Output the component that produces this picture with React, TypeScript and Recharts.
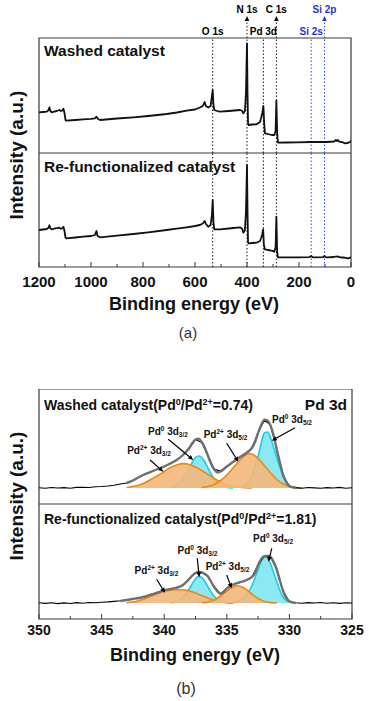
import {
  ComposedChart,
  Line,
  Area,
  XAxis,
  YAxis,
  ReferenceLine,
  ReferenceArea,
  ReferenceDot,
} from "recharts";

const FONT = '"Liberation Sans", Arial, Helvetica, sans-serif';
const INK = "#111";
const FRAME = "#3a3a3a";
const BLUE = "#1f35d6";
const ORANGE = "#ee8618";
const ORANGE_FILL = "#f4b77a";
const CYAN = "#19cde4";
const CYAN_FILL = "#86e8f2";
const ENVELOPE = "#707070";

// ---- (a) survey spectra: binding energy (eV), intensity (a.u.) ----
const surveyWashed: [number, number][] = [
  [1200, 40.7], [1185, 41], [1170, 41.3], [1163, 43], [1160, 45.7], [1156, 42], [1151, 40.7],
  [1140, 41.5], [1132, 42], [1122, 43], [1116, 42], [1110, 42.5], [1106, 44.3], [1102, 40],
  [1098, 33], [1096, 32.3], [1060, 33], [1030, 33.7], [1000, 34.2], [985, 34.7], [979, 36.3],
  [973, 34], [965, 33], [900, 34.5], [837, 35.7], [780, 37], [709, 39], [670, 40.5], [632, 42.3],
  [600, 43.5], [581, 45.5], [570, 47], [563, 51], [558, 47], [549, 45.5], [540, 47], [536, 55],
  [532, 63], [529, 48], [526, 43], [515, 42], [504, 41.3], [470, 42], [427, 43], [418, 42],
  [414, 39.7], [408, 42], [404, 60], [400, 109.7], [398, 60], [396, 30], [394, 28], [380, 28.5],
  [363, 28.7], [350, 31], [346, 34.7], [341, 40], [337, 47], [334, 30], [331, 19.7], [320, 19],
  [305, 18], [295, 18], [290, 22], [287, 52.3], [284, 20], [281, 10.3], [250, 10.5], [209, 10.7],
  [153, 11], [102, 11], [93, 11], [65, 11.5], [58, 13], [55, 12], [50, 13], [45, 11.3], [35, 11],
  [23, 9.7], [15, 10], [10, 10.3], [4, 11], [1, 12], [0, 12],
];

const surveyRefunc: [number, number][] = [
  [1200, 37], [1185, 37.5], [1170, 38], [1163, 39.5], [1160, 41.7], [1156, 38.5], [1151, 37.7],
  [1140, 38.5], [1132, 38.8], [1122, 39.3], [1116, 38.3], [1110, 38.8], [1106, 40.3], [1102, 36],
  [1098, 29.5], [1096, 28.7], [1060, 29.5], [1030, 30.3], [1000, 31], [985, 32], [979, 36],
  [975, 31], [965, 29.7], [900, 31.3], [837, 33], [780, 34.7], [709, 37], [670, 38.3], [632, 39.7],
  [600, 41], [581, 42], [570, 43.5], [563, 46], [558, 43], [549, 40.3], [540, 42], [535, 52],
  [532, 67], [529, 45], [526, 37.7], [515, 37.7], [504, 37.7], [470, 38.5], [427, 39.7], [418, 38],
  [414, 34.3], [408, 37], [404, 55], [400, 102], [398, 55], [396, 25], [394, 23.7], [380, 24],
  [363, 24.3], [350, 26], [346, 28.7], [342, 32], [338, 37.7], [335, 22], [331, 17.7], [320, 17],
  [305, 16.3], [295, 15.3], [290, 20], [287, 50.3], [284, 15], [281, 9.7], [250, 9.7], [209, 9.7],
  [160, 9.8], [153, 11], [148, 9.8], [143, 9.7], [108, 9.8], [102, 11], [97, 9.8], [93, 9.7],
  [65, 10], [58, 10.5], [55, 10.3], [50, 10.5], [42, 9.7], [30, 9.5], [20, 9.2], [10, 8.7],
  [4, 9.3], [0, 9.7],
];

const surveyTicks = [0, 100, 200, 300, 400, 500, 600, 700, 800, 900, 1000, 1100, 1200];
const coreEnergies = [532, 400, 337, 287, 153, 102];
const coreNames = ["O 1s", "N 1s", "Pd 3d", "C 1s", "Si 2s", "Si 2p"];

// ---- (b) Pd 3d high resolution, intensity above background (a.u.) ----
const washedRaw: [number, number][] = [
  [350, 0.3], [349.5, -0.3], [349, 0.5], [348.5, 0], [348, 0.4], [347.5, -0.2], [347, 0.6],
  [346.5, 0.8], [346, 0.5], [345.5, 1.2], [345, 1.5], [344.5, 2], [344, 2.8], [343.5, 4], [343, 5],
  [342.5, 7.8], [342, 10.8], [341.5, 14.3], [341, 16.2], [340.5, 19.3], [340, 21.2], [339.5, 24.8],
  [339, 27.7], [338.5, 33.3], [338, 39.6], [337.5, 48.4], [337, 45.5], [336.5, 32.4], [336, 18.6],
  [335.5, 16.9], [335, 21.1], [334.5, 26.4], [334, 30.2], [333.5, 34.8], [333, 39.6], [332.5, 55.4],
  [332, 67.6], [331.5, 62.9], [331, 37.6], [330.5, 12.4], [330, 1.8], [329.5, 0.4], [329, -0.2],
  [328.5, 0.5], [328, 0.1], [327.5, -0.3], [327, 0.4], [326.5, 0], [326, 0.6], [325.5, -0.2], [325, 0.3],
];
const washedFit: [number, number][] = [
  [343, 5], [342.5, 7.5], [342, 11], [341.5, 14], [341, 16.5], [340.5, 19], [340, 21.5], [339.5, 24.5],
  [339, 28], [338.5, 33], [338, 40], [337.75, 45], [337.5, 48.5], [337.25, 49.4], [337, 46],
  [336.75, 40], [336.5, 32], [336.25, 24], [336, 18.5], [335.75, 15.5], [335.5, 16.5], [335, 21.5],
  [334.5, 26], [334, 30.5], [333.5, 34.5], [333, 40], [332.75, 46], [332.5, 55], [332.25, 63],
  [332, 68.4], [331.75, 67.5], [331.5, 62], [331.25, 52], [331, 38], [330.75, 25], [330.5, 13],
  [330.25, 6], [330, 2], [329.5, 0],
];
const washedPd2_32: [number, number][] = [
  [343, 0.5], [342.5, 1.5], [342, 3], [341.5, 5.5], [341, 9], [340.5, 12.5], [340, 16.5], [339.5, 20.5],
  [339, 23], [338.5, 24.4], [338, 23.5], [337.5, 21], [337, 17.5], [336.5, 13.5], [336, 9.5],
  [335.5, 6], [335, 3.5], [334.5, 1.8], [334, 0.8], [333.5, 0.3], [333, 0],
];
const washedPd0_32: [number, number][] = [
  [339.5, 0.5], [339, 3], [338.5, 9], [338, 20], [337.75, 26], [337.5, 30.5], [337.25, 32], [337, 30.5],
  [336.75, 26], [336.5, 20], [336, 9], [335.5, 3], [335, 0.5], [334.5, 0],
];
const washedPd2_52: [number, number][] = [
  [337, 0.5], [336.5, 1.5], [336, 3.5], [335.5, 7.5], [335, 13], [334.5, 20], [334, 27.5], [333.5, 33],
  [333.25, 34.4], [333, 34], [332.5, 29.5], [332, 22.5], [331.5, 15], [331, 8.5], [330.5, 4],
  [330, 1.5], [329.5, 0.5], [329, 0],
];
const washedPd0_52: [number, number][] = [
  [334, 0.5], [333.5, 3], [333, 13], [332.75, 22], [332.5, 32], [332.25, 45], [332, 55], [331.75, 56],
  [331.5, 50], [331.25, 40], [331, 30], [330.75, 20], [330.5, 12], [330.25, 5.5], [330, 2],
  [329.5, 0.3], [329, 0],
];

const refuncRaw: [number, number][] = [
  [350, 0.2], [349.5, -0.4], [349, 0.3], [348.5, -0.6], [348, 0.1], [347.5, -0.5], [347, 0.4],
  [346.5, -0.2], [346, 0.5], [345.5, 0.3], [345, 0.8], [344.5, 1.1], [344, 1.6], [343.5, 2.2], [343, 3],
  [342.5, 4.2], [342, 5.3], [341.5, 6.2], [341, 8.8], [340.5, 10.2], [340, 13], [339.5, 13.8],
  [339, 15.6], [338.5, 17.7], [338, 24.3], [337.5, 29.8], [337, 30.8], [336.5, 26.2], [336, 16.3],
  [335.5, 9.1], [335, 14.8], [334.5, 18.2], [334, 20.8], [333.5, 22.3], [333, 26.3], [332.5, 37.7],
  [332, 46.9], [331.5, 45.7], [331, 33.4], [330.5, 11.8], [330, 1.5], [329.5, 0.3], [329, -0.3],
  [328.5, 0.4], [328, 0], [327.5, 0.5], [327, -0.2], [326.5, 0.3], [326, -0.4], [325.5, 0.2], [325, 0],
];
const refuncFit: [number, number][] = [
  [343.5, 2], [343, 3], [342.5, 4], [342, 5], [341.5, 6.5], [341, 8.5], [340.5, 10.5], [340, 12.8],
  [339.5, 14], [339, 15.3], [338.5, 18], [338, 24], [337.75, 27.5], [337.5, 30], [337.25, 31],
  [337, 30.5], [336.75, 29], [336.5, 26.5], [336.25, 21], [336, 16], [335.75, 11.5], [335.5, 9.3],
  [335.25, 11], [335, 14.5], [334.5, 18.5], [334, 20.5], [333.5, 22.5], [333, 26], [332.75, 30],
  [332.5, 38], [332.25, 44], [332, 46.7], [331.75, 47], [331.5, 46], [331.25, 41], [331, 33],
  [330.75, 22], [330.5, 12], [330.25, 5], [330, 1.7], [329.5, 0],
];
const refuncPd2_32: [number, number][] = [
  [343, 0.3], [342.5, 1], [342, 2.5], [341.5, 4.5], [341, 7], [340.5, 9.5], [340, 11.5], [339.5, 12.8],
  [339, 13.3], [338.5, 13.2], [338, 12], [337.5, 10], [337, 7.5], [336.5, 5], [336, 2.8], [335.5, 1.3],
  [335, 0.5], [334.5, 0],
];
const refuncPd0_32: [number, number][] = [
  [339.5, 0.3], [339, 1.5], [338.5, 6], [338, 14], [337.75, 19.5], [337.5, 24], [337.25, 26.6],
  [337, 25.5], [336.75, 21.5], [336.5, 16], [336, 6.5], [335.5, 1.8], [335, 0.3], [334.5, 0],
];
const refuncPd2_52: [number, number][] = [
  [337, 0.2], [336.5, 1], [336, 3], [335.5, 7], [335, 12], [334.5, 16], [334.25, 17.3], [334, 17],
  [333.5, 14], [333, 9], [332.5, 4.5], [332, 1.5], [331.5, 0.4], [331, 0],
];
const refuncPd0_52: [number, number][] = [
  [334.5, 0.3], [334, 2], [333.5, 7], [333, 17], [332.75, 25], [332.5, 33.5], [332.25, 42], [332, 46.6],
  [331.75, 45], [331.5, 39], [331.25, 30], [331, 21], [330.75, 12.5], [330.5, 6], [330.25, 2.5],
  [330, 0.8], [329.5, 0],
];

const pdTicks = [325, 327.5, 330, 332.5, 335, 337.5, 340, 342.5, 345, 347.5, 350];
const pdStates = ["2+", "0", "2+", "0"];
const pdOrbitals = ["3/2", "3/2", "5/2", "5/2"];
const washedTips: [number, number][] = [[340.07, 16.3], [337.68, 28], [334.08, 26.3], [331.41, 47.3]];
const refuncTips: [number, number][] = [[339.94, 10.3], [337.2, 25.7], [334.61, 14.7], [331.68, 41.3]];

// callout layout, px offsets from arrow tip: [tailDx, tailDy, textDx, textDy]
const washedCallouts = [[-13.3, -11.7, -14.3, -17.7], [-25, -20.7, -25.3, -25], [-11.6, -18.4, -12.8, -24.2], [23.3, -13, 20.3, -17.5]];
const refuncCallouts = [[-8.3, -13.4, -8.5, -19.2], [-2, -19, -1.8, -23.8], [-5, -13.3, -4.2, -18.3], [3.4, -13.4, 4.7, -19.9]];
const RAISED = ["N 1s", "C 1s", "Si 2p"];

const pts = (a: [number, number][]) => a.map(([e, v]) => ({ e, v }));

function InTick(props: any) {
  const { x, y, payload, major, textDy, fontSize } = props;
  const isMajor = Math.abs(payload.value % major) < 1e-6;
  return (
    <g>
      <line x1={x} x2={x} y1={y} y2={y - (isMajor ? 5 : 3)} stroke={FRAME} strokeWidth={1} />
      {isMajor && (
        <text x={x} y={y + textDy} textAnchor="middle" fontFamily={FONT} fontWeight="bold" fontSize={fontSize} fill={INK}>
          {payload.value}
        </text>
      )}
    </g>
  );
}

function CoreTag(props: any) {
  const { viewBox, text, color, raised } = props;
  const x = viewBox.x;
  const top = viewBox.y;
  return (
    <g>
      {raised && (
        <>
          <line x1={x} x2={x} y1={top} y2={top - 18} stroke={color} strokeDasharray="1.5 2" strokeWidth={0.9} />
          <path d={`M${x} ${top - 22} l-2.3 5 h4.6 z`} fill={color} />
        </>
      )}
      <text x={x} y={raised ? top - 25.5 : top - 3} textAnchor="middle" fontFamily={FONT} fontWeight="bold" fontSize={10} fill={color}>
        {text}
      </text>
    </g>
  );
}

function Callout(props: any) {
  const { cx, cy, layout, state, orbital } = props;
  const [tdx, tdy, lx, ly] = layout;
  const sx = cx + tdx;
  const sy = cy + tdy;
  const len = Math.hypot(cx - sx, cy - sy);
  const ux = (cx - sx) / len;
  const uy = (cy - sy) / len;
  const bx = cx - ux * 5;
  const by = cy - uy * 5;
  return (
    <g>
      <line x1={sx} y1={sy} x2={bx} y2={by} stroke="#000" strokeWidth={1.2} />
      <polygon points={`${cx},${cy} ${bx - uy * 2.3},${by + ux * 2.3} ${bx + uy * 2.3},${by - ux * 2.3}`} fill="#000" />
      <text x={cx + lx} y={cy + ly} textAnchor="middle" fontFamily={FONT} fontWeight="bold" fontSize={10} fill={INK}>
        Pd
        <tspan dy={-4} fontSize={6.5}>{state}</tspan>
        <tspan dy={4} fontSize={10}>{" 3d"}</tspan>
        <tspan dy={2} fontSize={6.5}>{orbital}</tspan>
      </text>
    </g>
  );
}

function SurveyPlot({ data, top, bottomAxis, labels }: any) {
  const plotH = bottomAxis ? 114 : 115;
  const height = bottomAxis ? plotH + 75 : plotH + 38;
  return (
    <div style={{ position: "absolute", left: 0, top }}>
      <ComposedChart
        width={369}
        height={height}
        margin={{ top: bottomAxis ? 0 : 38, right: 18, bottom: bottomAxis ? 45 : 0, left: 39 }}
      >
        <XAxis
          type="number"
          dataKey="e"
          domain={[0, 1200]}
          reversed
          allowDataOverflow
          hide={!bottomAxis}
          ticks={surveyTicks}
          interval={0}
          axisLine={false}
          tickLine={false}
          tickSize={0}
          tickMargin={0}
          height={30}
          tick={(p: any) => <InTick {...p} major={200} textDy={19.5} fontSize={15} />}
        />
        <YAxis type="number" domain={[0, plotH]} hide allowDataOverflow />
        <ReferenceArea x1={0} x2={1200} y1={0} y2={plotH} fill="none" stroke={FRAME} strokeWidth={1.2} />
        {coreEnergies.map((e, i) => {
          const color = coreNames[i].startsWith("Si") ? BLUE : "#000";
          return (
            <ReferenceLine
              key={coreNames[i]}
              x={e}
              stroke={color}
              strokeDasharray="1.5 2"
              strokeWidth={0.9}
              label={labels ? <CoreTag text={coreNames[i]} color={color} raised={RAISED.includes(coreNames[i])} /> : undefined}
            />
          );
        })}
        <Line
          data={pts(data)}
          dataKey="v"
          type="linear"
          stroke={INK}
          strokeWidth={1.8}
          strokeLinejoin="round"
          dot={false}
          activeDot={false}
          isAnimationActive={false}
        />
      </ComposedChart>
    </div>
  );
}

function PdPlot({ top, bottomAxis, raw, fit, comps, tips, callouts }: any) {
  const height = bottomAxis ? 115 + 75 : 115;
  return (
    <div style={{ position: "absolute", left: 0, top }}>
      <ComposedChart
        width={369}
        height={height}
        margin={{ top: 0, right: 17, bottom: bottomAxis ? 45 : 0, left: 39 }}
      >
        <XAxis
          type="number"
          dataKey="e"
          domain={[325, 350]}
          reversed
          allowDataOverflow
          hide={!bottomAxis}
          ticks={pdTicks}
          interval={0}
          axisLine={false}
          tickLine={false}
          tickSize={0}
          tickMargin={0}
          height={30}
          tick={(p: any) => <InTick {...p} major={5} textDy={16} fontSize={14} />}
        />
        <YAxis type="number" domain={[-16, 99]} hide allowDataOverflow />
        <ReferenceArea x1={325} x2={350} y1={-16} y2={99} fill="none" stroke={FRAME} strokeWidth={1.2} />
        <Line data={pts(raw)} dataKey="v" type="linear" stroke="#000" strokeWidth={1.1} dot={false} activeDot={false} isAnimationActive={false} />
        {[comps[1], comps[3]].map((c: any, i: number) => (
          <Area
            key={`c${i}`}
            data={pts(c)}
            dataKey="v"
            type="monotone"
            baseValue={0}
            stroke={CYAN}
            strokeWidth={1.6}
            fill={CYAN_FILL}
            fillOpacity={0.95}
            dot={false}
            activeDot={false}
            isAnimationActive={false}
          />
        ))}
        {[comps[0], comps[2]].map((c: any, i: number) => (
          <Area
            key={`o${i}`}
            data={pts(c)}
            dataKey="v"
            type="monotone"
            baseValue={0}
            stroke={ORANGE}
            strokeWidth={1.6}
            fill={ORANGE_FILL}
            fillOpacity={0.9}
            dot={false}
            activeDot={false}
            isAnimationActive={false}
          />
        ))}
        <Line data={pts(fit)} dataKey="v" type="monotone" stroke={ENVELOPE} strokeWidth={2.4} dot={false} activeDot={false} isAnimationActive={false} />
        {tips.map(([e, v]: [number, number], i: number) => (
          <ReferenceDot
            key={`t${i}`}
            x={e}
            y={v}
            r={0}
            shape={(p: any) => <Callout cx={p.cx} cy={p.cy} layout={callouts[i]} state={pdStates[i]} orbital={pdOrbitals[i]} />}
          />
        ))}
      </ComposedChart>
    </div>
  );
}

const Sup = ({ children }: any) => (
  <tspan dy={-5} fontSize={9}>{children}</tspan>
);

export default function App() {
  return (
    <div style={{ position: "absolute", left: 0, top: 0, width: 369, height: 701, background: "#fff" }}>
      <SurveyPlot data={surveyWashed} top={0} bottomAxis={false} labels />
      <SurveyPlot data={surveyRefunc} top={153} bottomAxis labels={false} />
      <PdPlot
        top={389}
        bottomAxis={false}
        raw={washedRaw}
        fit={washedFit}
        comps={[washedPd2_32, washedPd0_32, washedPd2_52, washedPd0_52]}
        tips={washedTips}
        callouts={washedCallouts}
      />
      <PdPlot
        top={504}
        bottomAxis
        raw={refuncRaw}
        fit={refuncFit}
        comps={[refuncPd2_32, refuncPd0_32, refuncPd2_52, refuncPd0_52]}
        tips={refuncTips}
        callouts={refuncCallouts}
      />
      <svg width={369} height={701} style={{ position: "absolute", left: 0, top: 0, pointerEvents: "none" }}>
        <g fontFamily={FONT} fill={INK}>
          <text x={44} y={55.5} fontWeight="bold" fontSize={15.5}>Washed catalyst</text>
          <text x={44} y={171.5} fontWeight="bold" fontSize={15.5}>Re-functionalized catalyst</text>
          <text transform="translate(23,155) rotate(-90)" textAnchor="middle" fontWeight="bold" fontSize={19}>Intensity (a.u.)</text>
          <text x={194} y={310} textAnchor="middle" fontWeight="bold" fontSize={18}>Binding energy (eV)</text>
          <text x={188} y={338} textAnchor="middle" fontSize={15} fill="#333">(a)</text>

          <text x={44} y={409.5} fontWeight="bold" fontSize={14}>
            Washed catalyst(Pd<Sup>0</Sup><tspan dy={5}>/Pd</tspan><Sup>2+</Sup><tspan dy={5}>=0.74)</tspan>
          </text>
          <text x={347} y={409.5} textAnchor="end" fontWeight="bold" fontSize={15.5}>Pd 3d</text>
          <text x={44} y={524} fontWeight="bold" fontSize={14}>
            Re-functionalized catalyst(Pd<Sup>0</Sup><tspan dy={5}>/Pd</tspan><Sup>2+</Sup><tspan dy={5}>=1.81)</tspan>
          </text>
          <text transform="translate(23,496) rotate(-90)" textAnchor="middle" fontWeight="bold" fontSize={19}>Intensity (a.u.)</text>
          <text x={195} y={661} textAnchor="middle" fontWeight="bold" fontSize={18}>Binding energy (eV)</text>
          <text x={186} y={694} textAnchor="middle" fontSize={16} fill="#333">(b)</text>
        </g>
      </svg>
    </div>
  );
}
